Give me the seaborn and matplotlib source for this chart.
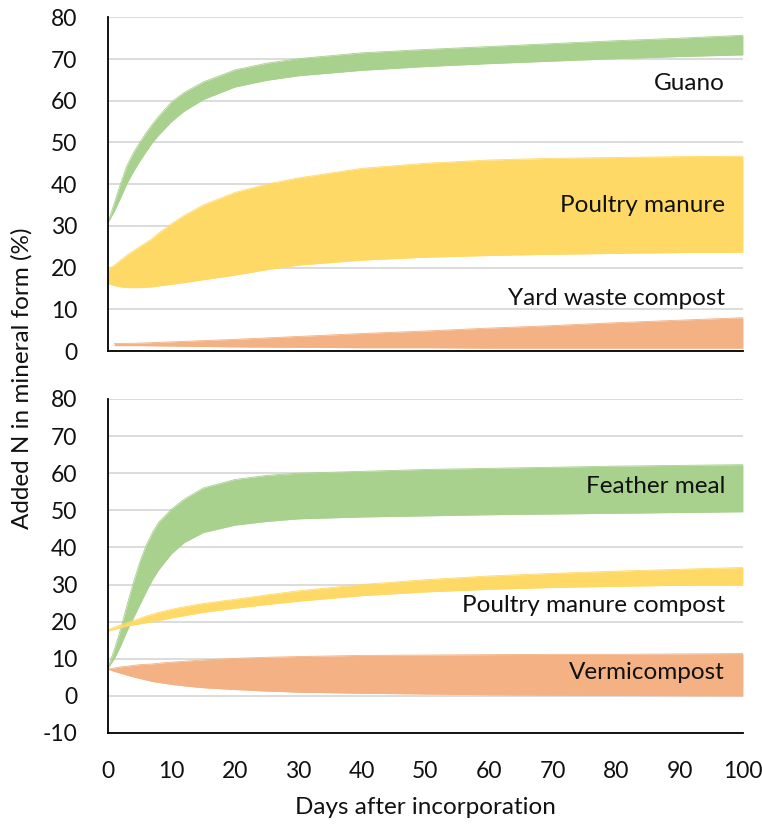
import numpy as np
import pandas as pd
import matplotlib
matplotlib.use("Agg")
import matplotlib.pyplot as plt
import seaborn as sns

# days after incorporation (shared sampling)
days = [0, 1, 2, 3, 4, 5, 6, 7, 8, 10, 12, 15, 20, 25, 30, 40, 50, 60, 70, 80, 90, 100]

# top panel
guano_hi = [30.8, 35.5, 40.2, 44.5, 47.5, 50.0, 52.3, 54.4, 56.3, 59.7, 62.0, 64.5, 67.4, 69.0, 70.1, 71.5, 72.3, 73.0, 73.7, 74.4, 75.0, 75.7]
guano_lo = [30.8, 33.5, 36.8, 40.2, 43.0, 45.5, 47.8, 50.0, 51.8, 55.0, 57.5, 60.3, 63.3, 64.9, 66.0, 67.3, 68.2, 68.9, 69.5, 70.1, 70.6, 71.0]
poultry_hi = [19.4, 20.6, 21.8, 23.0, 24.0, 25.0, 26.0, 27.0, 28.3, 30.5, 32.5, 35.0, 38.0, 40.0, 41.5, 43.8, 45.0, 45.8, 46.2, 46.4, 46.6, 46.7]
poultry_lo = [16.2, 15.7, 15.4, 15.2, 15.2, 15.2, 15.3, 15.4, 15.6, 16.0, 16.4, 17.1, 18.2, 19.5, 20.6, 21.8, 22.5, 22.9, 23.2, 23.4, 23.6, 23.7]
yard_days = [1, 5, 10, 20, 30, 40, 50, 60, 70, 80, 90, 100]
yard_hi = [1.8, 1.9, 2.2, 2.8, 3.5, 4.2, 4.8, 5.5, 6.1, 6.8, 7.4, 8.0]
yard_lo = [1.3, 1.3, 1.2, 1.0, 0.9, 0.8, 0.8, 0.7, 0.7, 0.7, 0.7, 0.7]

# bottom panel
feather_hi = [7.5, 12.5, 18.0, 24.5, 30.5, 36.0, 40.5, 44.0, 46.8, 50.3, 53.0, 56.0, 58.3, 59.4, 60.0, 60.5, 61.0, 61.3, 61.6, 61.9, 62.1, 62.3]
feather_lo = [7.5, 10.0, 13.5, 17.5, 21.0, 24.5, 28.0, 31.3, 34.0, 38.3, 41.3, 44.0, 46.0, 47.0, 47.7, 48.2, 48.5, 48.8, 49.0, 49.2, 49.4, 49.6]
pmc_hi = [17.8, 18.5, 19.1, 19.7, 20.3, 20.9, 21.5, 22.0, 22.5, 23.3, 24.0, 24.9, 26.0, 27.2, 28.3, 30.0, 31.3, 32.3, 33.0, 33.6, 34.1, 34.6]
pmc_lo = [17.4, 17.9, 18.4, 18.8, 19.1, 19.4, 19.7, 20.0, 20.3, 21.0, 21.6, 22.5, 23.6, 24.6, 25.5, 27.0, 28.0, 28.7, 29.2, 29.5, 29.8, 30.0]
vermi_hi = [7.2, 7.5, 7.8, 8.0, 8.2, 8.4, 8.5, 8.6, 8.8, 9.1, 9.3, 9.7, 10.1, 10.4, 10.6, 10.9, 11.0, 11.1, 11.2, 11.2, 11.3, 11.4]
vermi_lo = [7.2, 6.6, 6.1, 5.6, 5.1, 4.7, 4.3, 3.9, 3.6, 3.1, 2.7, 2.2, 1.7, 1.3, 1.0, 0.7, 0.5, 0.3, 0.2, 0.1, 0.05, 0.0]

GREEN = "#a9d18e"
YELLOW = "#ffd966"
ORANGE = "#f4b183"
FS = 17.5
TICK_FS = 16.5

sns.set_style("white")
plt.rcParams["font.family"] = ["Lato", "DejaVu Sans"]
plt.rcParams["font.size"] = FS
plt.rcParams["axes.unicode_minus"] = False

fig = plt.figure(figsize=(7.62, 8.26), dpi=100)
ax1 = fig.add_axes([0.1417, 0.575, 0.8333, 0.404])
ax2 = fig.add_axes([0.1417, 0.1126, 0.8333, 0.4044])


def band(ax, x, lo, hi, color, label, ylab):
    df = pd.DataFrame({"day": x, "lo": lo, "hi": hi})
    ax.fill_between(df["day"], df["lo"], df["hi"], color=color, lw=0, zorder=2)
    sns.lineplot(data=df, x="day", y="lo", ax=ax, color=color, lw=0.6, zorder=2)
    sns.lineplot(data=df, x="day", y="hi", ax=ax, color=color, lw=0.6, zorder=2)
    ax.text(97.2, ylab, label, ha="right", va="center", fontsize=FS, color="#111111", zorder=3)


band(ax1, days, guano_lo, guano_hi, GREEN, "Guano", 64.2)
band(ax1, days, poultry_lo, poultry_hi, YELLOW, "Poultry manure", 34.9)
band(ax1, yard_days, yard_lo, yard_hi, ORANGE, "Yard waste compost", 12.6)

band(ax2, days, feather_lo, feather_hi, GREEN, "Feather meal", 56.3)
band(ax2, days, pmc_lo, pmc_hi, YELLOW, "Poultry manure compost", 24.4)
band(ax2, days, vermi_lo, vermi_hi, ORANGE, "Vermicompost", 6.2)

for ax, lo in [(ax1, 0), (ax2, -10)]:
    ax.set_xlim(0, 100)
    ax.set_ylim(lo, 80)
    ax.set_yticks(np.arange(lo, 81, 10))
    ax.set_xticks(np.arange(0, 101, 10))
    ax.yaxis.grid(True, color="#d9d9d9", lw=1.3, zorder=0)
    ax.set_axisbelow(True)
    sns.despine(ax=ax)
    for s in ["left", "bottom"]:
        ax.spines[s].set_linewidth(1.3)
        ax.spines[s].set_color("black")
        ax.spines[s].set_zorder(4)
    ax.tick_params(axis="x", direction="out", length=7, width=1.3, color="black", pad=13, labelsize=TICK_FS, labelcolor="#111111")
    ax.tick_params(axis="y", length=0, pad=22, labelsize=TICK_FS, labelcolor="#111111")
    ax.set_xlabel("")
    ax.set_ylabel("")

ax1.tick_params(axis="x", labelbottom=False)

fig.text(0.5584, 0.022, "Days after incorporation", ha="center", va="center", fontsize=FS, color="#111111")
fig.text(0.029, 0.542, "Added N in mineral form (%)", ha="center", va="center", rotation=90, fontsize=FS, color="#111111")

fig.savefig("out.png", dpi=100)
